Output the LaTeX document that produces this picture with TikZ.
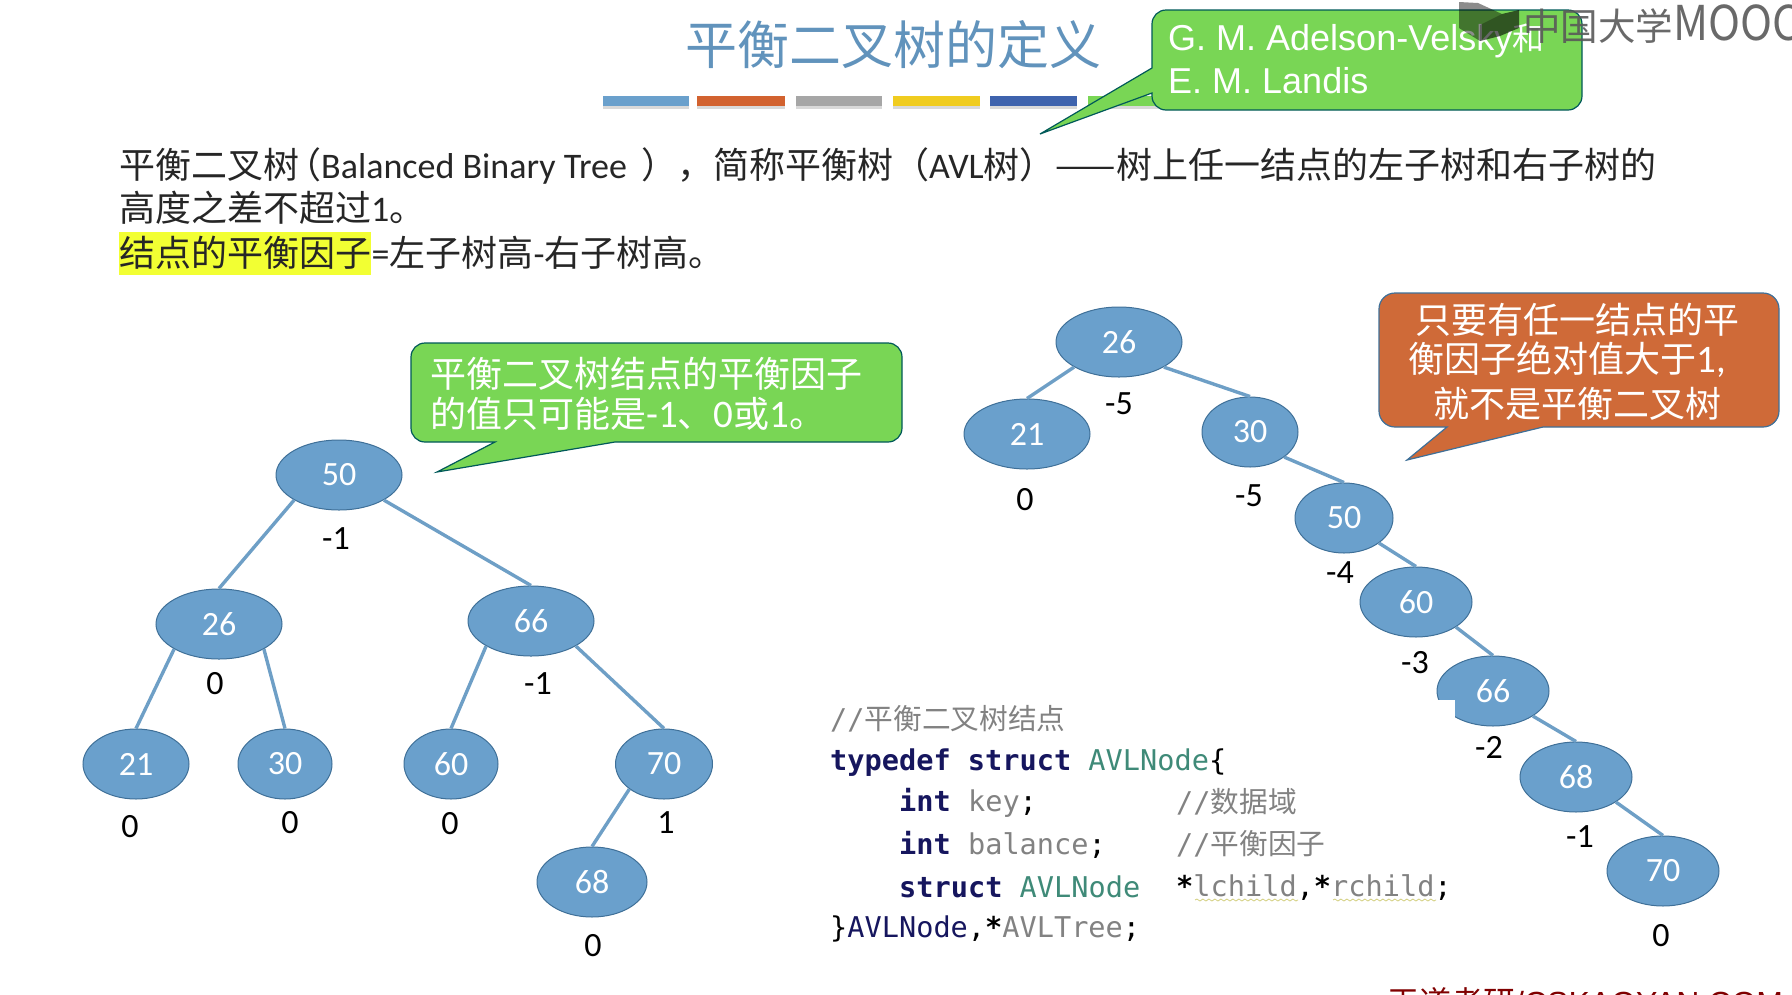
\documentclass[tikz,border=0pt]{standalone}
\usepackage{fontspec}
\setmainfont{Carlito}
\setsansfont{Liberation Sans}
\setmonofont{DejaVu Sans Mono}
\newfontfamily\cjk{Noto Sans CJK SC}
\usetikzlibrary{positioning,shapes.geometric,shadows,decorations.pathmorphing}
\definecolor{avlfill}{HTML}{6AA0CC}
\definecolor{avledge}{HTML}{6E9FC6}
\definecolor{avlrim}{HTML}{3F7098}
\definecolor{tipgreen}{HTML}{79D655}
\definecolor{tiporange}{HTML}{CF6A38}
\definecolor{kwcol}{HTML}{16165E}
\definecolor{tycol}{HTML}{3F8A78}
\definecolor{cmcol}{HTML}{828282}
\definecolor{markcol}{HTML}{F2FF33}
\newcommand{\fs}[1]{\fontsize{#1}{#1}\selectfont}
\newcommand{\kw}[1]{\textcolor{kwcol}{\textbf{#1}}}
\newcommand{\ty}[1]{\textcolor{tycol}{#1}}
\newcommand{\cm}[1]{\textcolor{cmcol}{#1}}
\newcommand{\zh}[1]{{\cjk\fs{28.7}#1}}
\newcommand{\zt}[1]{{\cjk\fs{36}#1}}
\tikzset{
  avl/.style={ellipse, draw=avlrim, fill=avlfill, text=white, font=\fs{34}, minimum height=70pt, inner sep=0pt, line width=1pt},
  link/.style={draw=avledge, line width=3.4pt},
  bf/.style={font=\fs{34}, inner sep=0pt},
  para/.style={anchor=west, inner sep=0pt, font=\fs{36}, text=black!85},
  code/.style={anchor=west, inner sep=0pt, font=\ttfamily\fs{28.6}},
  bar/.style={drop shadow={shadow xshift=0pt, shadow yshift=-3pt, opacity=0.3}},
  tipbox/.style={draw=teal!70!black, line width=1.2pt},
  tiptext/.style={anchor=west, inner sep=0pt, text=white, font=\fs{39}},
  wavy/.style={draw=olive!40, line width=0.8pt, decorate, decoration={snake, amplitude=1pt, segment length=6pt}},
}
\begin{document}
\begin{tikzpicture}[x=1pt, y=-1pt]
    \clip (0, 0) rectangle (1792, 994);
    \node [font=\cjk\fs{52}, text=avlfill!92!black, inner sep=0pt] (title) at (893, 45) {平衡二叉树的定义};
    % colour bars under the title
    \fill [bar, fill=avlfill] (603, 96) rectangle (689, 106);
    \fill [bar, fill={rgb,255:red,210;green,98;blue,47}] (697, 96) rectangle (785, 106);
    \fill [bar, fill=black!35] (796, 96) rectangle (882, 106);
    \fill [bar, fill={rgb,255:red,240;green,204;blue,32}] (893, 96) rectangle (980, 106);
    \fill [bar, fill={rgb,255:red,62;green,99;blue,173}] (990, 96) rectangle (1077, 106);
    \fill [bar, fill=tipgreen] (1088, 96) rectangle (1175, 106);
    % callouts
    \draw [tipbox, fill=tipgreen] (1152, 68) -- (1040, 134) -- (1152, 93) [rounded corners=14pt] -- (1152, 110) -- (1582, 110) -- (1582, 10) -- (1152, 10) [sharp corners] -- (1152, 68) -- cycle;
    \node [tiptext, font=\sffamily\fs{36}] (authorA) at (1168, 41) {G. M. Adelson-Velsky{\cjk\fs{32}和}};
    \node [tiptext, font=\sffamily\fs{36}] (authorB) at (1168, 81) {E. M. Landis};
    \draw [tipbox, fill=tipgreen] (495, 442) -- (437, 472) -- (615, 442) [rounded corners=14pt] -- (902, 442) -- (902, 343) -- (411, 343) -- (411, 442) [sharp corners] -- (495, 442) -- cycle;
    \node [tiptext] (rangeA) at (430, 374) {\zt{平衡二叉树结点的平衡因子}};
    \node [tiptext] (rangeB) at (430, 414) {\zt{的值只可能是}-1\zt{、}0\zt{或}1\zt{。}};
    \draw [draw=avlrim, line width=1.2pt, fill=tiporange] (1447, 427) -- (1407, 460) -- (1543, 427) [rounded corners=16pt] -- (1779, 427) -- (1779, 293) -- (1379, 293) -- (1379, 427) [sharp corners] -- (1447, 427) -- cycle;
    \node [tiptext, anchor=center] (notA) at (1577, 320) {\zt{只要有任一结点的平}};
    \node [tiptext, anchor=center] (notB) at (1567, 360) {\zt{衡因子绝对值大于}1,};
    \node [tiptext, anchor=center] (notC) at (1577, 404) {\zt{就不是平衡二叉树}};
    % definition text
    \node [para] (defA) at (119, 166) {\zt{平衡二叉树}\hspace{-14pt}\zt{（}Balanced Binary Tree\hspace{14pt}\zt{），简称平衡树（}AVL\zt{树）——树上任一结点的左子树和右子树的}};
    \node [para] (defB) at (119, 208) {\zt{高度之差不超过}1\zt{。}};
    \node [para, fill=markcol, minimum height=43pt] (defC) at (119, 253) {\zt{结点的平衡因子}};
    \node [para, right=0pt of defC] (defD) {=\zt{左子树高}-\zt{右子树高。}};
    % left tree
    \node [avl, minimum width=126pt] (lA) at (339, 475) {50};
    \node [avl, minimum width=126pt] (lB) at (219, 624) {26};
    \node [avl, minimum width=126pt] (lC) at (531, 621) {66};
    \node [avl, minimum width=106pt] (lD) at (136, 764) {21};
    \node [avl, minimum width=94pt] (lE) at (285, 764) {30};
    \node [avl, minimum width=94pt] (lF) at (451, 764) {60};
    \node [avl, minimum width=97pt] (lG) at (664, 764) {70};
    \node [avl, minimum width=110pt] (lH) at (592, 882) {68};
    \draw [link] (lA.south west) -- (lB.north);
    \draw [link] (lA.south east) -- (lC.north);
    \draw [link] (lB.south west) -- (lD.north);
    \draw [link] (lB.south east) -- (lE.north);
    \draw [link] (lC.south west) -- (lF.north);
    \draw [link] (lC.south east) -- (lG.north);
    \draw [link] (lG.south west) -- (lH.north);
    \node [bf] (lfA) at (336, 539) {-1};
    \node [bf] (lfB) at (215, 684) {0};
    \node [bf] (lfC) at (538, 684) {-1};
    \node [bf] (lfD) at (130, 827) {0};
    \node [bf] (lfE) at (290, 823) {0};
    \node [bf] (lfF) at (450, 824) {0};
    \node [bf] (lfG) at (666, 823) {1};
    \node [bf] (lfH) at (593, 946) {0};
    % right tree
    \node [avl, minimum width=126pt] (rA) at (1119, 342) {26};
    \node [avl, minimum width=126pt] (rB) at (1027, 434) {21};
    \node [avl, minimum width=96pt] (rC) at (1250, 432) {30};
    \node [avl, minimum width=98pt] (rD) at (1344, 518) {50};
    \node [avl, minimum width=112pt] (rE) at (1416, 602) {60};
    \node [avl, minimum width=112pt] (rF) at (1493, 691) {66};
    \node [avl, minimum width=112pt] (rG) at (1576, 777) {68};
    \node [avl, minimum width=112pt] (rH) at (1663, 871) {70};
    \draw [link] (rA.south west) -- (rB.north);
    \draw [link] (rA.south east) -- (rC.north);
    \draw [link] (rC.south east) -- (rD.north);
    \draw [link] (rD.south east) -- (rE.north);
    \draw [link] (rE.south east) -- (rF.north);
    \draw [link] (rF.south east) -- (rG.north);
    \draw [link] (rG.south east) -- (rH.north);
    \node [bf] (rfA) at (1119, 404) {-5};
    \node [bf] (rfB) at (1025, 500) {0};
    \node [bf] (rfC) at (1249, 496) {-5};
    \node [bf] (rfD) at (1340, 573) {-4};
    \node [bf] (rfE) at (1415, 663) {-3};
    \node [bf] (rfF) at (1489, 747) {-2};
    \node [bf] (rfG) at (1580, 837) {-1};
    \node [bf] (rfH) at (1661, 936) {0};
    % the code picture cuts a corner off node 66
    \fill [white] (1430, 700) rectangle (1455, 729);
    % code
    \node [code] (codeA) at (830, 719) {\cm{//\zh{平衡二叉树结点}}};
    \node [code] (codeB) at (830, 763) {\kw{typedef struct} \ty{AVLNode}\textcolor{black}{\{}};
    \node [code] (codeC) at (899, 803) {\kw{int} \cm{key}\textcolor{black}{;}};
    \node [code] (codeCc) at (1176, 802) {\cm{//\zh{数据域}}};
    \node [code] (codeD) at (899, 845) {\kw{int} \cm{balance}\textcolor{black}{;}};
    \node [code] (codeDc) at (1176, 844) {\cm{//\zh{平衡因子}}};
    \node [code] (codeE) at (899, 887) {\kw{struct} \ty{AVLNode}};
    \node [code] (codeEc) at (1176, 888) {\textbf{*}\cm{lchild},\textbf{*}\cm{rchild};};
    \node [code] (codeF) at (830, 929) {\}\textcolor{kwcol}{AVLNode},\textbf{*}\cm{AVLTree};};
    \draw [wavy] (1195, 900) -- (1298, 900);
    \draw [wavy] (1333, 900) -- (1436, 900);
    % logo and footer
    \fill [black, opacity=0.45] (1459, 2) -- (1478, 3) -- (1502, 14) -- (1480, 25) -- (1480, 41) -- (1459, 28) -- cycle;
    \fill [black, opacity=0.6] (1480, 25) -- (1502, 14) -- (1519, 10) -- (1519, 28) -- (1500, 36) -- (1480, 41) -- cycle;
    \node [anchor=west, inner sep=0pt, text=black!65, opacity=0.9] (logo) at (1523, 24) {{\cjk\fs{37.5}中国大学}\scalebox{0.9}[1]{\cjk\fs{48}MOOC}};
    \node [anchor=west, inner sep=0pt, font=\sffamily\fs{32}, text=red!50!black] (footer) at (1387, 1002) {{\cjk 王道考研}/CSKAOYAN.COM};
\end{tikzpicture}
\end{document}
